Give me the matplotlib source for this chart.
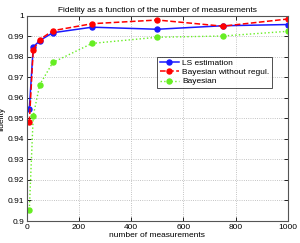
import matplotlib
matplotlib.use('Agg')
from matplotlib import pyplot as plt

plt.rcParams['font.family'] = ['Liberation Sans', 'DejaVu Sans']

n_meas = [10, 25, 50, 100, 250, 500, 750, 1000]
ls_est = [0.9545, 0.9848, 0.9880, 0.9918, 0.9945, 0.9935, 0.9952, 0.9958]
bayes_noreg = [0.9482, 0.9835, 0.9885, 0.9928, 0.9962, 0.9980, 0.9950, 0.9985]
bayes = [0.9055, 0.9513, 0.9665, 0.9773, 0.9866, 0.9896, 0.9902, 0.9925]

xticks = [0, 200, 400, 600, 800, 1000]
yticks = [0.9, 0.91, 0.92, 0.93, 0.94, 0.95, 0.96, 0.97, 0.98, 0.99, 1]
ytick_labels = ['0.9', '0.91', '0.92', '0.93', '0.94', '0.95', '0.96', '0.97', '0.98', '0.99', '1']

fig = plt.figure(figsize=(3.0, 2.43), dpi=100)
ax = fig.add_axes([0.089, 0.0905, 0.871, 0.844])

ax.plot(n_meas, ls_est, '-', color='#1a1aff', lw=1.1, marker='o', ms=3.6, label='LS estimation')
ax.plot(n_meas, bayes_noreg, '--', color='#ff0000', lw=1.1, marker='o', ms=3.6, label='Bayesian without regul.')
ax.plot(n_meas, bayes, ':', color='#66ee22', lw=1.0, marker='o', ms=3.6, label='Bayesian')

ax.set_xlim(0, 1000)
ax.set_ylim(0.9, 1.0)
ax.set_xticks(xticks)
ax.set_yticks(yticks)
ax.set_yticklabels(ytick_labels)
ax.tick_params(direction='in', length=3, width=0.6, labelsize=6, top=True, right=True, pad=2)
ax.grid(True, linestyle=':', color='#b0b0b0', lw=0.6)
for s in ax.spines.values():
    s.set_linewidth(0.8)
    s.set_color('#555555')

ax.set_title('Fidelity as a function of the number of measurements', fontsize=6, pad=3)
ax.set_xlabel('number of measurements', fontsize=6, labelpad=1)
ax.set_ylabel('fidelity', fontsize=6, labelpad=1)

leg = ax.legend(loc='upper left', bbox_to_anchor=(0.499, 0.80), fontsize=6, frameon=True,
                fancybox=False, edgecolor='black', handlelength=2.3, borderpad=0.3,
                labelspacing=0.15, handletextpad=0.4, borderaxespad=0)
leg.get_frame().set_linewidth(0.6)

fig.savefig('out.png', dpi=100)
